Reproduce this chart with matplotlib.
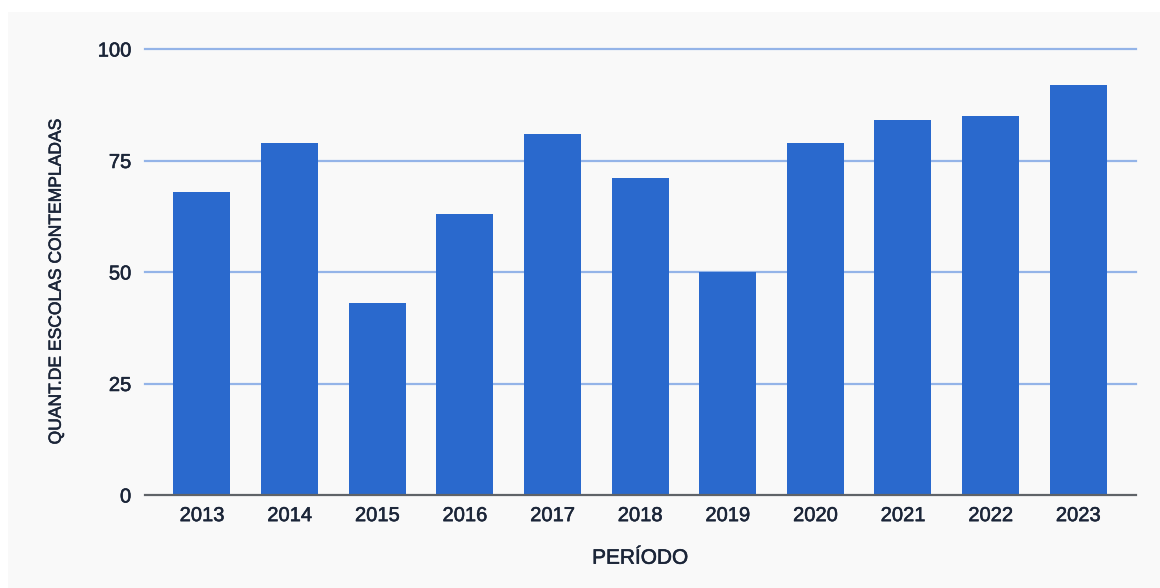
import matplotlib
matplotlib.use("Agg")
import matplotlib.pyplot as plt
from matplotlib.patches import Rectangle
import matplotlib.patheffects as pe

years = ["2013", "2014", "2015", "2016", "2017", "2018", "2019", "2020", "2021", "2022", "2023"]
values = [68, 79, 43, 63, 81, 71, 50, 79, 84, 85, 92]
yticks = [0, 25, 50, 75, 100]

plt.rcParams['font.family'] = ['Liberation Sans', 'DejaVu Sans']
text_color = "#1b2538"
bar_color = "#2a69cd"
grid_color = "#94b4e8"
bg = "#f9f9f9"
thick = [pe.withStroke(linewidth=0.4, foreground=text_color)]

fig = plt.figure(figsize=(11.6, 5.88), dpi=100)
fig.patch.set_facecolor("white")
fig.patches.append(Rectangle((8/1160, 0), 1, 1 - 12/588, transform=fig.transFigure,
                             facecolor=bg, edgecolor="none", zorder=-10))

ax = fig.add_axes([145/1160, 1 - 495/588, (1136 - 145)/1160, (495 - 49)/588])
ax.set_zorder(5)
ax.set_facecolor("none")
x = list(range(len(years)))
ax.bar(x, values, width=0.65, color=bar_color, zorder=3)
ax.set_xlim(-0.65, 10.66)
ax.set_ylim(0, 100)
ax.set_yticks(yticks)
ax.set_xticks(x)
ax.set_xticklabels(years)
for y in yticks[1:]:
    ax.axhline(y, color=grid_color, lw=1.6, zorder=1, clip_on=False)
ax.axhline(0, color="#5f6368", lw=1.6, zorder=4, clip_on=False)
for s in ax.spines.values():
    s.set_visible(False)
ax.tick_params(length=0, labelsize=14.5, colors=text_color)
ax.tick_params(axis='x', pad=8)
ax.tick_params(axis='y', pad=10)
for t in ax.get_xticklabels() + ax.get_yticklabels():
    t.set_path_effects(thick)
ax.set_ylabel("QUANT.DE ESCOLAS CONTEMPLADAS", fontsize=12.6, color=text_color,
              path_effects=thick)
ax.yaxis.set_label_coords(-0.082, 0.477)
ax.set_xlabel("PERÍODO", fontsize=15, color=text_color, labelpad=17, path_effects=thick)

fig.savefig("out.png", dpi=100, facecolor=fig.get_facecolor())
